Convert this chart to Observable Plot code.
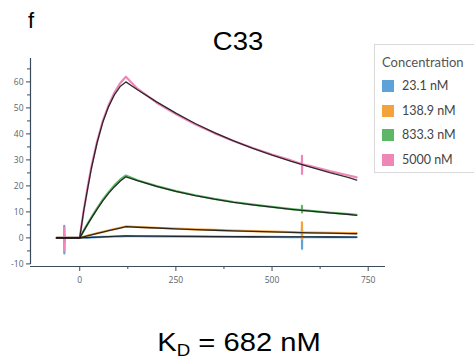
<!DOCTYPE html>
<html>
<head>
<meta charset="utf-8">
<script src="https://cdn.jsdelivr.net/npm/d3@7"></script>
<script src="https://cdn.jsdelivr.net/npm/@observablehq/plot@0.6"></script>
<style>
  html, body { margin: 0; padding: 0; background: #fff; }
  #wrap { position: relative; width: 474px; height: 360px; overflow: hidden; background: #fff; }
  #chart { position: absolute; left: 0; top: 0; }
  .t { position: absolute; font-family: "Liberation Sans", Arial, sans-serif; color: #000; line-height: 1; white-space: nowrap; }
  #legend { position: absolute; left: 374px; top: 44px; width: 120px; height: 129px; border: 1px solid #d9d9d9; box-sizing: border-box; font-family: Lato, "Open Sans", sans-serif; }
  #legend .head { position: absolute; left: 7px; top: 9px; font-size: 13px; color: #555; }
  #legend .item { position: absolute; left: 7px; font-size: 12.5px; color: #444; line-height: 13px; }
  #legend .sw { display: inline-block; width: 12px; height: 12px; vertical-align: -2px; margin-right: 8px; }
</style>
</head>
<body>
<div id="wrap">
  <div id="chart"></div>
  <div class="t" id="panel" style="left:28px; top:10px; font-size:22px;">f</div>
  <div class="t" id="title" style="left:238px; top:29px; font-size:25px; transform: translateX(-50%) scaleX(1.1);">C33</div>
  <div id="legend"></div>
  <div class="t" id="kd" style="left:239px; top:329px; font-size:26.5px; transform: translateX(-50%) scaleX(1.1);">K<sub style="font-size:17px; vertical-align:-5px;">D</sub> = 682 nM</div>
</div>
<script>
// ---- data ----
const concentrations = ["23.1 nM", "138.9 nM", "833.3 nM", "5000 nM"];
const colors = ["#5ea2d9", "#f6a23c", "#5cb866", "#ef86b8"];

// measured responses (time in s, response)
const dataT    = [-60, -40.4, -40.2, -40, -39.8, 0, 10, 20, 30, 45, 60, 75, 90, 105, 120, 150, 200, 250, 300, 350, 400, 450, 500, 550, 577.6, 577.8, 578, 578.2, 600, 650, 700, 720];
const data23   = [0, 0, 4.6, -6, 0, 0, 0.05, 0.12, 0.18, 0.27, 0.36, 0.45, 0.53, 0.6, 0.68, 0.65, 0.6, 0.55, 0.5, 0.46, 0.42, 0.39, 0.36, 0.33, 0.32, 3.5, -4.2, 0.32, 0.3, 0.28, 0.26, 0.25];
const data138  = [0, 0, 1, -1.5, 0, 0, 0.42, 0.85, 1.2, 1.75, 2.3, 2.85, 3.4, 3.9, 4.4, 4.2, 3.9, 3.6, 3.3, 3.05, 2.8, 2.6, 2.4, 2.2, 2.05, 6, -0.5, 2.05, 2.05, 1.9, 1.8, 1.8];
const data833  = [0, 0, 1, -1.5, 0, 0, 2.7, 5.3, 7.8, 11.4, 14.7, 17.6, 20.2, 22.4, 24, 22.2, 19.9, 18, 16.4, 15, 13.8, 12.8, 11.9, 11.1, 10.7, 12.3, 9.8, 10.7, 10.4, 9.7, 9.2, 8.9];
const data5000 = [0, 0, 4, -5, 0, 0, 10.3, 19, 27.2, 37, 45, 51, 55.8, 59.5, 62, 57.4, 52, 47.6, 43.7, 40.3, 37.3, 34.6, 32.1, 29.8, 28.4, 31.6, 24.6, 28.3, 27.6, 25.7, 24, 23.3];

// fitted curves
const fitT    = [-60, 0, 10, 20, 30, 45, 60, 75, 90, 105, 120, 150, 200, 250, 300, 350, 400, 450, 500, 550, 600, 650, 700, 720];
const fit23   = [0, 0, 0.07, 0.14, 0.2, 0.3, 0.4, 0.5, 0.58, 0.66, 0.74, 0.71, 0.66, 0.61, 0.56, 0.52, 0.48, 0.45, 0.42, 0.39, 0.36, 0.34, 0.31, 0.3];
const fit138  = [0, 0, 0.4, 0.8, 1.15, 1.7, 2.25, 2.8, 3.3, 3.8, 4.3, 4.1, 3.8, 3.5, 3.2, 2.95, 2.7, 2.5, 2.3, 2.1, 1.95, 1.8, 1.65, 1.6];
const fit833  = [0, 0, 2.6, 5.1, 7.5, 11, 14.2, 17.1, 19.6, 21.8, 23.5, 22, 19.8, 17.9, 16.3, 14.9, 13.7, 12.7, 11.8, 11, 10.3, 9.6, 9, 8.7];
const fit5000 = [0, 0, 10, 18.5, 26.5, 36.5, 44.5, 50.5, 55, 58.2, 60, 57, 52.3, 48, 44, 40.5, 37.3, 34.4, 31.8, 29.4, 27.2, 25.1, 23.2, 22.2];

const xTicks = [0, 250, 500, 750];
const xMinor = [125, 375, 625];
const yTicks = [-10, 0, 10, 20, 30, 40, 50, 60];
const yMinor = [-5, 5, 15, 25, 35, 45, 55, 65];

const xDomain = [-128, 795];
const yDomain = [-11, 69];

// ---- build tables ----
const dataSeries = [data23, data138, data833, data5000];
const fitSeries = [fit23, fit138, fit833, fit5000];
const dataRows = [];
dataSeries.forEach((vals, i) => vals.forEach((v, j) => dataRows.push({t: dataT[j], v, c: concentrations[i]})));
const fitRows = [];
fitSeries.forEach((vals, i) => vals.forEach((v, j) => fitRows.push({t: fitT[j], v, c: concentrations[i]})));

const axisColor = "#3b4b5b";
const labelColor = "#56636f";

const plot = Plot.plot({
  width: 474,
  height: 300,
  marginLeft: 30,
  marginRight: 89,
  marginTop: 58,
  marginBottom: 34,
  style: {fontFamily: "'Open Sans', sans-serif", fontSize: "8.5px", background: "transparent"},
  x: {domain: xDomain, label: null},
  y: {domain: yDomain, label: null},
  color: {domain: concentrations, range: colors},
  marks: [
    Plot.line(dataRows, {x: "t", y: "v", z: "c", stroke: "c", strokeWidth: 2.2, strokeLinejoin: "round", strokeLinecap: "round", curve: "linear"}),
    Plot.line(fitRows, {x: "t", y: "v", z: "c", stroke: "#1a1a1a", strokeWidth: 1.3, strokeOpacity: 0.9, strokeLinejoin: "round"}),
    Plot.ruleX([xDomain[0]], {y1: -10.3, y2: yDomain[1], stroke: axisColor, strokeWidth: 1.2}),
    Plot.ruleY([yDomain[0]], {stroke: axisColor, strokeWidth: 1.2}),
    Plot.axisY({ticks: yTicks, tickSize: 4, tickPadding: 3, stroke: axisColor, fill: labelColor, tickFormat: d => String(d), label: null}),
    Plot.axisY({ticks: yMinor, tickSize: 3, tickPadding: 2, stroke: axisColor, tickFormat: () => "", label: null}),
    Plot.axisX({ticks: xTicks, tickSize: 5, tickPadding: 5, stroke: axisColor, fill: labelColor, tickFormat: d => String(d), label: null}),
    Plot.axisX({ticks: xMinor, tickSize: 3, stroke: axisColor, tickFormat: () => "", label: null})
  ]
});
document.getElementById("chart").appendChild(plot);

// legend
const legend = document.getElementById("legend");
const head = document.createElement("div");
head.className = "head";
head.textContent = "Concentration";
legend.appendChild(head);
concentrations.forEach((c, i) => {
  const it = document.createElement("div");
  it.className = "item";
  it.style.top = (34 + i * 24.5) + "px";
  const sw = document.createElement("span");
  sw.className = "sw";
  sw.style.background = colors[i];
  it.appendChild(sw);
  it.appendChild(document.createTextNode(c));
  legend.appendChild(it);
});
</script>
</body>
</html>
